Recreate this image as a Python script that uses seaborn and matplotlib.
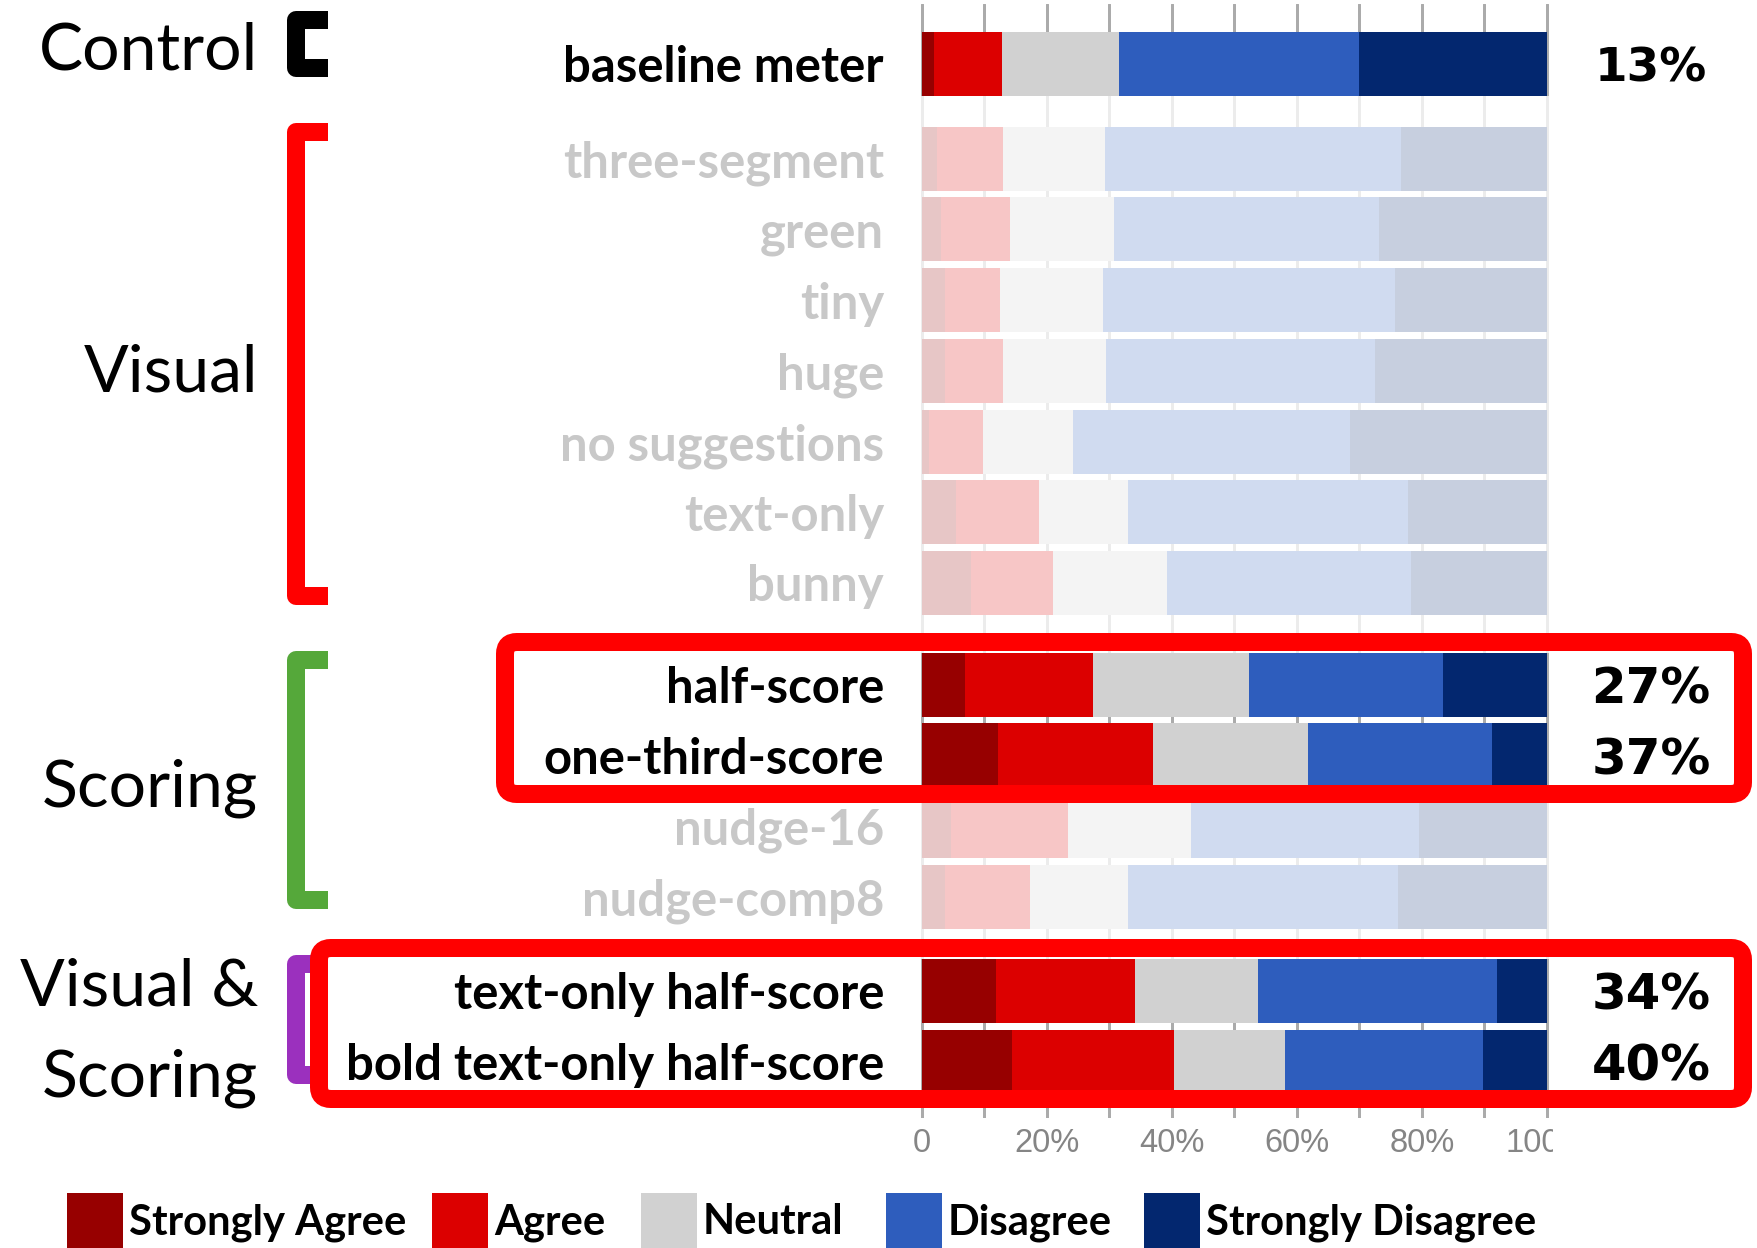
import numpy as np
import pandas as pd
import matplotlib
matplotlib.use("Agg")
import matplotlib.pyplot as plt
import seaborn as sns
from matplotlib.transforms import Affine2D, Bbox, TransformedBbox, blended_transform_factory
from matplotlib.patches import Rectangle, FancyBboxPatch
from matplotlib.lines import Line2D

# ---------------- data ----------------
conditions = ["baseline meter", "three-segment", "green", "tiny", "huge",
              "no suggestions", "text-only", "bunny", "half-score",
              "one-third-score", "nudge-16", "nudge-comp8",
              "text-only half-score", "bold text-only half-score"]
group_sizes = [1, 7, 4, 2]
group_names = ["Control", "Visual", "Scoring", "Visual &\nScoring"]
highlighted = [True, False, False, False, False, False, False, False,
               True, True, False, False, True, True]

strongly_agree    = [2.0, 2.4, 3.1, 3.7, 3.7, 1.1, 5.5, 7.8, 6.9, 12.2, 4.7, 3.7, 11.9, 14.4]
agree             = [10.8, 10.5, 11.0, 8.8, 9.3, 8.7, 13.2, 13.2, 20.5, 24.8, 18.6, 13.6, 22.2, 25.9]
neutral           = [18.7, 16.4, 16.6, 16.4, 16.4, 14.3, 14.3, 18.2, 24.9, 24.7, 19.7, 15.7, 19.6, 17.8]
disagree          = [38.4, 47.3, 42.5, 46.8, 43.1, 44.3, 44.8, 39.1, 31.1, 29.5, 36.6, 43.2, 38.3, 31.7]
strongly_disagree = [30.1, 23.4, 26.8, 24.3, 27.5, 31.6, 22.2, 21.7, 16.6, 8.8, 20.4, 23.8, 8.0, 10.2]

levels = ["Strongly Agree", "Agree", "Neutral", "Disagree", "Strongly Disagree"]
level_colors = ["#970000", "#dc0000", "#d1d1d1", "#2e5dbd", "#03276f"]
xticks_major = [0, 20, 40, 60, 80, 100]
xtick_labels = ["0", "20%", "40%", "60%", "80%", "100%"]

# ---------------- layout ----------------
W, H = 1758, 1248
fig = plt.figure(figsize=(W / 100, H / 100), dpi=100)
sns.set_style("white")
plt.rcParams["font.family"] = ["Lato", "DejaVu Sans"]

# pixel transform (x right, y down, in figure pixels)
T = Affine2D().scale(1.0 / W, -1.0 / H).translate(0, 1) + fig.transFigure
PX = 0.72  # points per pixel at dpi 100

group_gaps = [0.34, 0.44, 0.33]
pos = []
offset = 0.0
i = 0
for g, n in enumerate(group_sizes):
    for _ in range(n):
        pos.append(i + offset)
        i += 1
    if g < len(group_gaps):
        offset += group_gaps[g]
pos = np.array(pos)

row0_px, pitch_px = 64.0, 70.7
ax_top_px, ax_bot_px = 4.0, 1118.0
x0_px, x100_px = 922.0, 1547.0
ppu = (x100_px - x0_px) / 100.0
ax_left_px, ax_right_px = x0_px - 0.5 * ppu, x100_px + 0.5 * ppu
ax = fig.add_axes([ax_left_px / W, 1 - ax_bot_px / H,
                   (ax_right_px - ax_left_px) / W, (ax_bot_px - ax_top_px) / H])

df = pd.DataFrame({"condition": conditions, "pos": pos,
                   levels[0]: strongly_agree, levels[1]: agree, levels[2]: neutral,
                   levels[3]: disagree, levels[4]: strongly_disagree})
cum = df[levels].cumsum(axis=1)
bar_w = 64.0 / pitch_px

# stacked bars drawn from the outermost cumulative value inwards
for k in range(len(levels) - 1, -1, -1):
    sns.barplot(x=cum[levels[k]].values, y=df["pos"].values, orient="h",
                native_scale=True, color=level_colors[k], saturation=1,
                width=bar_w, errorbar=None, linewidth=0, ax=ax, zorder=2)

ax.set_xlim(-0.5, 100.5)
ylim_top = (ax_top_px - row0_px) / pitch_px
ylim_bot = (ax_bot_px - row0_px) / pitch_px
ax.set_ylim(ylim_bot, ylim_top)
ax.set_xlabel("")
ax.set_ylabel("")
ax.set_yticks([])
for s in ax.spines.values():
    s.set_visible(False)
ax.set_xticks(xticks_major)
ax.set_xticklabels(xtick_labels)
ax.set_xticks([10, 30, 50, 70, 90], minor=True)
ax.grid(True, which="both", axis="x", color="#ababab", lw=3 * PX, zorder=0)
ax.set_axisbelow(True)
ax.tick_params(axis="x", which="major", length=7 * PX, width=3 * PX, color="#a5a5a5",
               labelsize=23.5, labelcolor="#858585", pad=2)
ax.tick_params(axis="x", which="minor", length=3 * PX, width=3 * PX, color="#c0c0c0")
for lab in ax.get_xticklabels():
    lab.set_fontfamily(["Liberation Sans", "DejaVu Sans"])

# fade the non-highlighted rows (white veil over contiguous faded blocks)
half = bar_w / 2
idx = 0
n = len(conditions)
while idx < n:
    if highlighted[idx]:
        idx += 1
        continue
    j = idx
    while j + 1 < n and not highlighted[j + 1]:
        j += 1
    y_start = pos[idx - 1] + half if idx > 0 else pos[idx] - 0.5
    y_end = pos[j + 1] - half if j + 1 < n else pos[j] + 0.5
    ax.add_patch(Rectangle((-0.5, y_start), 101, y_end - y_start, facecolor="white",
                           edgecolor="none", alpha=0.78, zorder=3))
    idx = j + 1

renderer = fig.canvas.get_renderer()


def fit(txt, target_px):
    w = txt.get_window_extent(renderer).width
    txt.set_fontsize(txt.get_fontsize() * target_px / w)


# row labels
label_tf = blended_transform_factory(T, ax.transData)
row_texts = []
for c, p, hl in zip(conditions, pos, highlighted):
    t = fig.text(884, p, c, transform=label_tf, ha="right", va="center_baseline",
                 fontsize=30, fontweight="bold", family=["Lato", "DejaVu Sans"],
                 color="black" if hl else "#c8c8c8")
    row_texts.append(t)
longest = row_texts[conditions.index("bold text-only half-score")]
fit(longest, 538)
for t in row_texts:
    t.set_fontsize(longest.get_fontsize())

# percentage (agree + strongly agree) labels for highlighted rows
pct_texts = []
for k, (p, hl) in enumerate(zip(pos, highlighted)):
    if hl:
        val = strongly_agree[k] + agree[k]
        t = fig.text(1651, p, f"{val:.0f}%", transform=label_tf, ha="center",
                     va="center_baseline", fontsize=30, fontweight="bold",
                     family=["DejaVu Sans"], color="black", zorder=6)
        pct_texts.append(t)
fit(pct_texts[0], 106)
for t in pct_texts:
    t.set_fontsize(pct_texts[0].get_fontsize() * 1.06)

# group labels (multi-line names placed line by line)
group_label_y = [[46], [367], [782], [982, 1073]]
gtexts = []
for name, ys in zip(group_names, group_label_y):
    for line, gy in zip(name.split("\n"), ys):
        t = fig.text(258, gy, line, transform=T, ha="right", va="center_baseline",
                     fontsize=50, family=["Lato", "DejaVu Sans"], color="black")
        gtexts.append(t)
fit(gtexts[0], 219)
for t in gtexts:
    t.set_fontsize(gtexts[0].get_fontsize())

# brackets
bracket_colors = ["#000000", "#ff0000", "#55a83a", "#9b30be"]
bracket_spans = [(11, 77), (123, 605), (651, 909), (955, 1084)]
sw = 18
for col, (top, bot) in zip(bracket_colors, bracket_spans):
    xs = [328, 287 + sw / 2, 287 + sw / 2, 328]
    ys = [top + sw / 2, top + sw / 2, bot - sw / 2, bot - sw / 2]
    fig.add_artist(Line2D(xs, ys, transform=T, color=col, lw=sw * PX,
                          solid_joinstyle="round", solid_capstyle="butt", zorder=4))

# red highlight boxes
for (bx0, by0, bx1, by1) in [(496, 633, 1752, 803), (310, 939, 1752, 1108)]:
    fig.add_artist(FancyBboxPatch((bx0 + sw / 2, by0 + sw / 2), bx1 - bx0 - sw, by1 - by0 - sw,
                                  boxstyle="round,pad=0,rounding_size=12", transform=T,
                                  facecolor="none", edgecolor="#ff0000", lw=sw * PX, zorder=5))

# legend
leg_patch_x = [67, 432, 641, 886, 1144]
leg_texts = []
for lx, lev, col in zip(leg_patch_x, levels, level_colors):
    fig.add_artist(Rectangle((lx, 1193), 56, 70, transform=T, facecolor=col,
                             edgecolor="none", zorder=4))
    t = fig.text(lx + 62, 1219, lev, transform=T, ha="left", va="center_baseline",
                 fontsize=28, fontweight="bold", family=["Lato", "DejaVu Sans"], color="black")
    leg_texts.append(t)
fit(leg_texts[-1], 330)
for t in leg_texts:
    t.set_fontsize(leg_texts[-1].get_fontsize())

# clip the last tick label just past the axis edge, as in the reference
fig.canvas.draw()
last = ax.get_xticklabels()[-1]
last.set_clip_box(TransformedBbox(Bbox([[0, 0], [1553, H]]), Affine2D()))
last.set_clip_on(True)

fig.savefig("out.png", dpi=100)
